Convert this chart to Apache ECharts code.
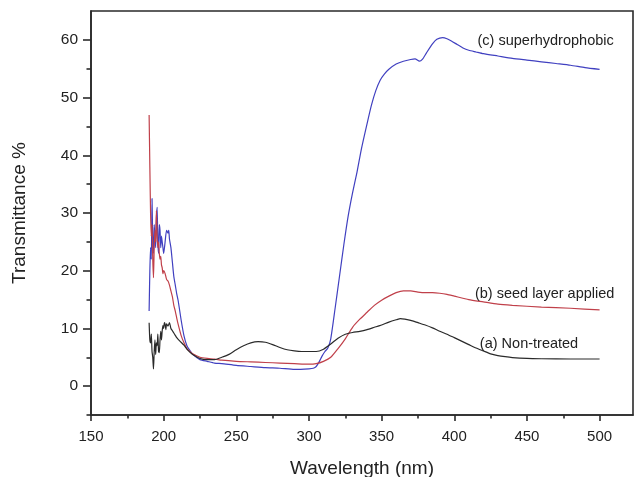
<!DOCTYPE html>
<html>
<head>
<meta charset="utf-8">
<script src="https://cdn.jsdelivr.net/npm/echarts@6/dist/echarts.min.js"></script>
<style>
html,body{margin:0;padding:0;background:#fff;}
#chart{width:634px;height:477px;}
</style>
</head>
<body>
<div id="chart"></div>
<script>
// (a) Non-treated
const wlA = [190,190.5,191,191.5,192,192.5,193,193.5,194,194.5,195,195.5,196,196.5,197,197.5,198,198.5,199,199.5,200,200.5,201,201.5,202,203,204,205,206,207,208,209,210,212,214,216,218,220,225,230,235,240,245,250,255,260,265,270,275,280,285,290,295,300,305,310,315,320,325,330,335,340,345,350,355,360,363,366,370,375,380,385,390,395,400,405,410,415,420,425,430,435,440,450,460,480,500];
const tA  = [11,8,7.5,9,6,5,3,6,8,5.5,7.5,7,9,6,5.8,8,9.5,8,9.6,10.5,10,11,10.7,9.8,10.8,10.4,11,10,9.6,9.2,8.8,8.4,8.1,7.6,7.1,6.4,5.9,5.5,4.8,4.6,4.6,5.0,5.5,6.3,7.0,7.5,7.7,7.6,7.2,6.7,6.3,6.1,6.0,6.0,6.0,6.4,7.3,8.3,9.0,9.3,9.5,9.8,10.2,10.6,11.1,11.5,11.7,11.6,11.4,11.0,10.6,10.1,9.5,9.0,8.4,7.8,7.2,6.6,6.1,5.6,5.3,5.1,4.95,4.8,4.75,4.7,4.7];

// (b) seed layer applied
const wlB = [190,190.5,191,191.5,192,192.5,193,193.5,194,194.5,195,195.5,196,196.5,197,197.5,198,198.5,199,199.5,200,201,202,203,204,205,206,207,208,209,210,212,214,216,218,220,225,230,235,240,250,260,270,280,290,300,305,310,315,320,325,330,335,340,345,350,355,360,365,370,375,380,385,390,395,400,410,420,430,440,460,480,500];
const tB  = [47,38,30,26,28,22,18.8,24,27,25,30.4,26,24,25,23,22,22.5,21,20.5,19.5,20,19.5,18.5,18.2,17.5,16.5,15.5,14,13,11.8,10.7,8.8,7.5,6.5,6,5.6,5.0,4.8,4.7,4.5,4.3,4.2,4.1,4.0,3.9,3.8,3.9,4.3,5.0,6.5,8.2,10.2,11.6,12.8,14,14.9,15.6,16.2,16.5,16.5,16.3,16.2,16.2,16.1,15.9,15.6,15.0,14.6,14.2,14.0,13.7,13.5,13.2];

// (c) superhydrophobic
const wlC = [190,190.5,191,191.5,192,192.5,193,193.5,194,194.5,195,195.5,196,196.5,197,197.5,198,198.5,199,199.5,200,201,202,203,203.5,204,205,206,207,208,209,210,212,214,216,218,220,225,230,235,240,250,260,270,280,290,300,303,305,307,309,311,313,315,318,321,324,327,330,333,336,340,343,346,349,352,355,360,365,370,373,376,378,381,385,388,392,395,398,402,406,410,415,420,430,440,450,460,470,480,490,500];
const tC  = [13,20,24,22,32.5,25,23,28,26,24,29,31,25,23,28,27,24,26,25,24,23,25,27,26.5,27,25.5,24,21.5,19,17.5,16,14.8,11.5,8.7,7,6.2,5.5,4.6,4.3,4.0,3.9,3.6,3.4,3.2,3.1,2.9,3.0,3.1,3.4,4.2,5.2,6.0,6.6,8.2,13.5,19,24.5,29.5,33.5,37,41,45.5,48.7,51.2,53,54.1,54.9,55.8,56.3,56.6,56.7,56.3,56.6,57.8,59.3,60.1,60.4,60.2,59.8,59.2,58.6,58.2,57.9,57.6,57.2,56.8,56.5,56.2,55.9,55.6,55.2,54.9];

const xMajorTicks = [150,200,250,300,350,400,450,500];
const xMinorTicks = [175,225,275,325,375,425,475];
const yMajorTicks = [0,10,20,30,40,50,60];
const yMinorTicks = [-5,5,15,25,35,45,55];

const seriesNames = ['(a) Non-treated','(b) seed layer applied','(c) superhydrophobic'];
const seriesColors = ['#2a2a2a','#c0404a','#4040c0'];
const labelAnchors = [[417.6,7.3],[414.2,15.9],[416,59.8]];

const zip = (xs, ys) => xs.map((x, i) => [x, ys[i]]);
const dataSets = [zip(wlA,tA), zip(wlB,tB), zip(wlC,tC)];

const FONT = '"Liberation Sans", Arial, Helvetica, sans-serif';
const chart = echarts.init(document.getElementById('chart'), null, {renderer:'canvas'});

const axisLineStyle = {color:'#2a2a2a', width:1.6};

const option = {
  backgroundColor:'#fff',
  animation:false,
  textStyle:{fontFamily:FONT},
  grid:{left:91, top:11, right:1, bottom:62, show:true, borderColor:'#2a2a2a', borderWidth:1.6,
        containLabel:false, outerBoundsMode:'none'},
  xAxis:[{
    type:'value', min:150, max:523, position:'bottom',
    name:'Wavelength (nm)', nameLocation:'middle', nameGap:44,
    nameTextStyle:{fontSize:19, color:'#222', fontFamily:FONT},
    axisLine:{show:true, onZero:false, lineStyle:axisLineStyle},
    axisTick:{show:true, inside:false, length:6, customValues:xMajorTicks, lineStyle:axisLineStyle},
    axisLabel:{show:true, margin:14, fontSize:15, color:'#222', fontFamily:FONT, customValues:xMajorTicks},
    splitLine:{show:false}
  },{
    type:'value', min:150, max:523, position:'bottom',
    axisLine:{show:false, onZero:false},
    axisTick:{show:true, inside:false, length:3.5, customValues:xMinorTicks, lineStyle:axisLineStyle},
    axisLabel:{show:false},
    splitLine:{show:false}
  }],
  yAxis:[{
    type:'value', min:-5, max:65, position:'left',
    name:'Transmittance %', nameLocation:'middle', nameGap:62, nameRotate:90,
    nameTextStyle:{fontSize:19, color:'#222', fontFamily:FONT},
    axisLine:{show:true, onZero:false, lineStyle:axisLineStyle},
    axisTick:{show:true, inside:false, length:8, customValues:yMajorTicks, lineStyle:axisLineStyle},
    axisLabel:{show:true, margin:13, fontSize:15.5, color:'#222', fontFamily:FONT, customValues:yMajorTicks},
    splitLine:{show:false}
  },{
    type:'value', min:-5, max:65, position:'left',
    axisLine:{show:false, onZero:false},
    axisTick:{show:true, inside:false, length:4.5, customValues:yMinorTicks, lineStyle:axisLineStyle},
    axisLabel:{show:false},
    splitLine:{show:false}
  }],
  series: dataSets.map((d, i) => ({
    type:'line',
    name:seriesNames[i],
    xAxisIndex:0, yAxisIndex:0,
    data:d,
    showSymbol:false,
    symbol:'none',
    smooth:0.2,
    lineStyle:{color:seriesColors[i], width:1.2},
    itemStyle:{color:seriesColors[i]},
    z: 3 - i,
    markPoint:{
      symbol:'circle', symbolSize:0.01, silent:true,
      data:[{coord:labelAnchors[i], name:seriesNames[i]}],
      label:{show:true, position:'right', distance:0, formatter:seriesNames[i],
             color:'#222', fontSize:14.5, fontFamily:FONT}
    }
  }))
};
chart.setOption(option);
</script>
</body>
</html>
